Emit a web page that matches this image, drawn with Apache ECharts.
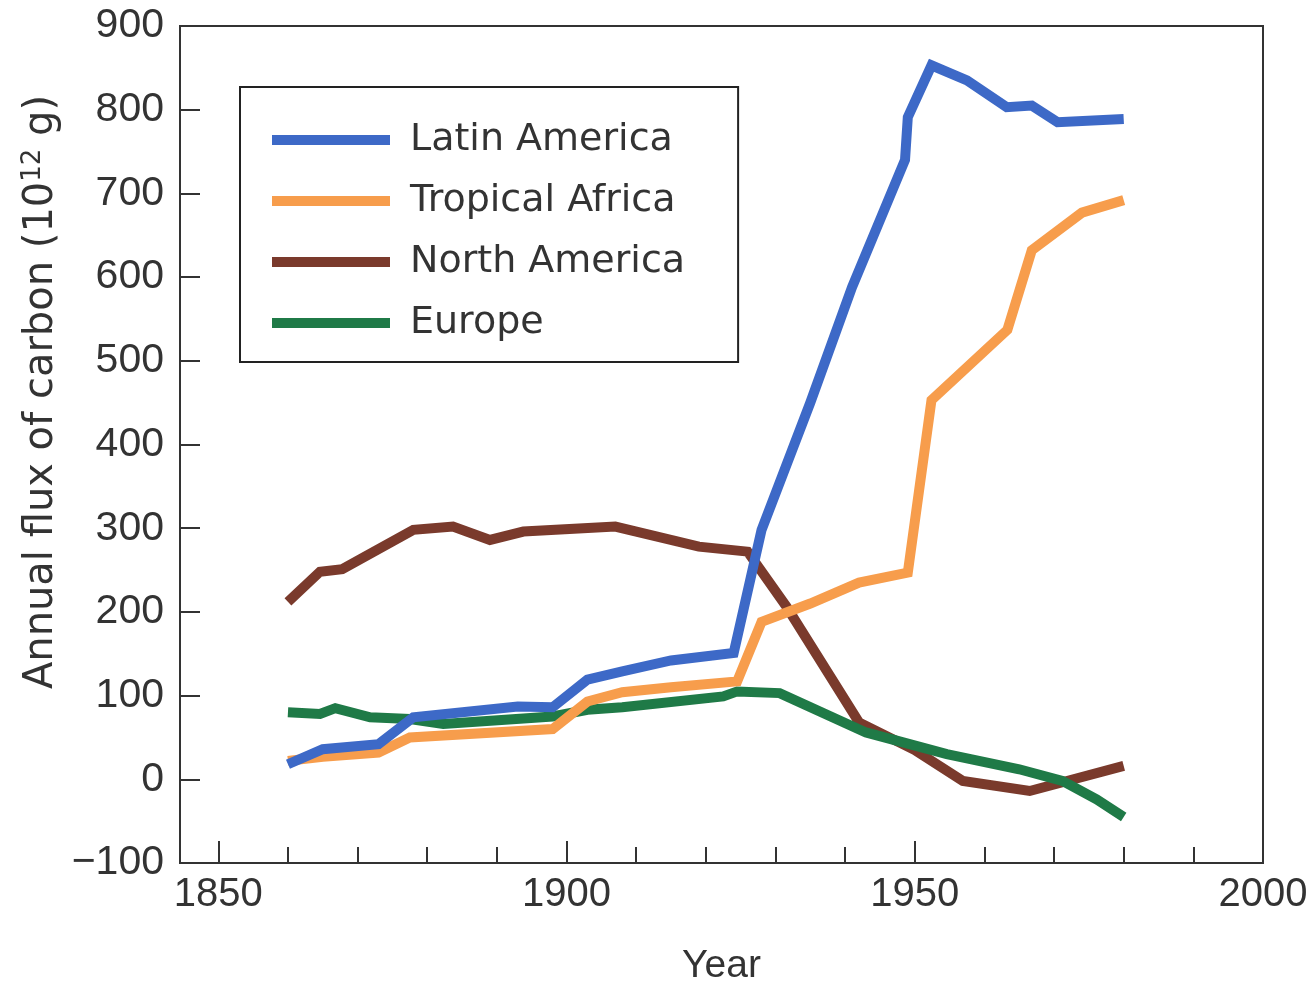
<!DOCTYPE html>
<html>
<head>
<meta charset="utf-8">
<script src="https://cdn.jsdelivr.net/npm/echarts@6/dist/echarts.min.js"></script>
<style>
    html, body { margin: 0; padding: 0; background: #fff; }
    #chart { width: 1315px; height: 984px; }
</style>
</head>
<body>
<div id="chart"></div>
<script>
// values (10^12 g of carbon per year)
const latinYears = [1860, 1865, 1873, 1878, 1893, 1898, 1903, 1908, 1915, 1924, 1928, 1935, 1941, 1948.6, 1949, 1952.4, 1957.5, 1963.2, 1966.8, 1970.5, 1980];
const latinValues = [18, 36, 42, 74, 87, 86, 119, 129, 142, 151, 298, 450, 588, 740, 791, 853, 835, 803, 805, 785, 789];

const africaYears = [1860, 1865, 1873, 1877.5, 1898, 1903, 1908, 1915, 1924.5, 1928, 1935, 1942, 1949, 1952.4, 1963.3, 1966.8, 1974, 1980];
const africaValues = [22, 27, 32, 50, 60, 93, 104, 110, 117, 188, 210, 235, 247, 453, 537, 632, 677, 692];

const northYears = [1860, 1864.6, 1867.8, 1878, 1883.7, 1889, 1893.8, 1907, 1919, 1926, 1931.6, 1942, 1950, 1956.9, 1966.5, 1980];
const northValues = [212, 248, 251, 298, 302, 286, 296, 302, 278, 272, 206, 68, 35, -2, -14, 16];

const europeYears = [1860, 1864.6, 1866.8, 1871.8, 1877.5, 1882.3, 1898, 1903, 1908, 1922.5, 1924.5, 1930.6, 1943, 1954.6, 1965, 1971.2, 1976.1, 1980];
const europeValues = [80, 78, 85, 74, 72, 66, 75, 83, 86, 99, 105, 103, 56, 30, 12, -2, -24, -45];

const xTickYears = [1850, 1860, 1870, 1880, 1890, 1900, 1910, 1920, 1930, 1940, 1950, 1960, 1970, 1980, 1990];
const xMajorYears = [1850, 1900, 1950];
const xLabelYears = [1850, 1900, 1950, 2000];

const numFont = "'Liberation Sans', Arial, sans-serif";
const wordFont = "'DejaVu Sans', sans-serif";
const ink = "#333";

function pairs(xs, ys) {
    return xs.map((x, i) => [x, ys[i]]);
}

function lineSeries(name, xs, ys, color) {
    return {
        name: name,
        type: "line",
        data: pairs(xs, ys),
        showSymbol: false,
        symbol: "none",
        lineStyle: { color: color, width: 10, join: "miter" },
        itemStyle: { color: color },
        z: 3
    };
}

let myChart = echarts.init(document.getElementById("chart"));
let option = {
    backgroundColor: "#fff",
    animation: false,
    grid: {
        left: 180,
        right: 52,
        top: 26,
        bottom: 121,
        outerBoundsMode: "none",
        show: true,
        borderColor: ink,
        borderWidth: 2
    },
    legend: {
        orient: "vertical",
        left: 240,
        top: 87,
        padding: [33, 53, 19, 32],
        borderColor: "#222",
        borderWidth: 2,
        backgroundColor: "#fff",
        icon: "rect",
        itemWidth: 118,
        itemHeight: 10,
        itemGap: 21,
        textStyle: {
            fontFamily: wordFont,
            fontSize: 38,
            color: ink,
            lineHeight: 40,
            padding: [0, 0, 0, 15]
        },
        data: ["Latin America", "Tropical Africa", "North America", "Europe"]
    },
    xAxis: [
        {
            type: "value",
            min: 1844.5,
            max: 2000,
            name: "Year",
            nameLocation: "middle",
            nameGap: 84,
            nameTextStyle: { fontFamily: numFont, fontSize: 39, color: ink },
            splitLine: { show: false },
            axisLine: { onZero: false, lineStyle: { color: ink, width: 2 } },
            axisTick: {
                inside: true,
                length: 16,
                customValues: xTickYears,
                lineStyle: { color: ink, width: 2 }
            },
            axisLabel: {
                customValues: xLabelYears,
                fontFamily: numFont,
                fontSize: 40,
                color: ink,
                margin: 12,
                formatter: v => String(v)
            }
        },
        {
            type: "value",
            min: 1844.5,
            max: 2000,
            position: "bottom",
            splitLine: { show: false },
            axisLine: { show: false, onZero: false },
            axisLabel: { show: false },
            axisTick: {
                inside: true,
                length: 22,
                customValues: xMajorYears,
                lineStyle: { color: ink, width: 2 }
            }
        }
    ],
    yAxis: {
        type: "value",
        min: -100,
        max: 900,
        interval: 100,
        splitLine: { show: false },
        axisLine: { lineStyle: { color: ink, width: 2 } },
        axisTick: { inside: true, length: 20, lineStyle: { color: ink, width: 2 } },
        axisLabel: {
            fontFamily: numFont,
            fontSize: 41,
            color: ink,
            margin: 16,
            formatter: v => (v < 0 ? "\u2212" + Math.abs(v) : String(v))
        }
    },
    graphic: [
        {
            type: "text",
            x: 42,
            y: 392,
            rotation: Math.PI / 2,
            style: {
                text: "Annual flux of carbon (10{sup|12} g)",
                font: "40px " + wordFont,
                fill: ink,
                align: "center",
                verticalAlign: "middle",
                rich: {
                    sup: { fontSize: 26, fontFamily: wordFont, fill: ink, padding: [0, 0, 18, 0] }
                }
            }
        }
    ],
    series: [
        lineSeries("North America", northYears, northValues, "#7a3a2c"),
        lineSeries("Europe", europeYears, europeValues, "#1f7a47"),
        lineSeries("Tropical Africa", africaYears, africaValues, "#f79d4c"),
        lineSeries("Latin America", latinYears, latinValues, "#3d69c7")
    ]
};

myChart.setOption(option);
</script>
</body>
</html>
